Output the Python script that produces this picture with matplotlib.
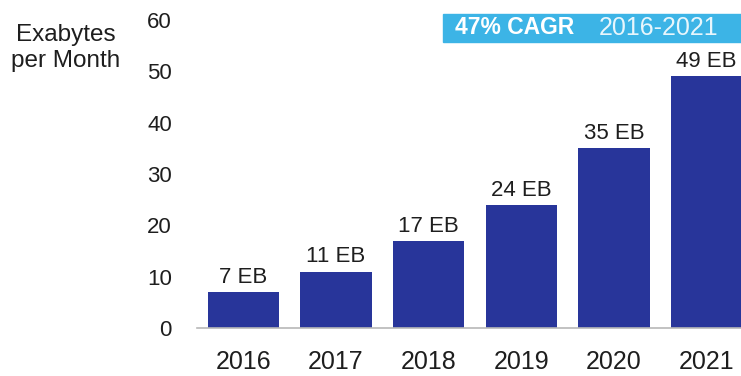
import matplotlib.pyplot as plt
from matplotlib.patches import Rectangle

years = ["2016", "2017", "2018", "2019", "2020", "2021"]
traffic_eb = [7, 11, 17, 24, 35, 49]
value_labels = ["7 EB", "11 EB", "17 EB", "24 EB", "35 EB", "49 EB"]
yticks = [0, 10, 20, 30, 40, 50, 60]

plt.rcParams['font.family'] = ['Liberation Sans', 'DejaVu Sans']

W, H = 741, 376
fig = plt.figure(figsize=(W / 100, H / 100), dpi=100)
fig.patch.set_facecolor("white")
ax = fig.add_axes([197 / W, (H - 328) / H, (W - 197) / W, 308 / H])

x = range(len(years))
bars = ax.bar(x, traffic_eb, width=0.77, color="#28359a")
for b, lab in zip(bars, value_labels):
    ax.annotate(lab, (b.get_x() + b.get_width() / 2, b.get_height()),
                xytext=(0, 3), textcoords="offset points",
                ha="center", va="bottom", fontsize=16, color="#1e1e1e")

ax.set_xlim(-0.5, 5.37)
ax.set_ylim(0, 60)
ax.set_xticks(list(x))
ax.set_xticklabels(years, fontsize=18, color="#1e1e1e")
ax.set_yticks(yticks)
ax.set_yticklabels([str(v) for v in yticks], fontsize=16, color="#1e1e1e")
ax.tick_params(axis="x", length=0, pad=16)
ax.tick_params(axis="y", length=0, pad=18)
for s in ["top", "right", "left"]:
    ax.spines[s].set_visible(False)
ax.spines["bottom"].set_color("#b8b8b8")
ax.spines["bottom"].set_linewidth(1.2)

# axis title in the top-left corner
fig.text(66 / W, 1 - 48 / H, "Exabytes\nper Month", ha="center", va="center",
         fontsize=17.5, color="#1e1e1e", linespacing=1.2)

# CAGR banner
fig.patches.append(Rectangle((443 / W, 1 - 42 / H), 298 / W, 28 / H,
                             transform=fig.transFigure, color="#3cb4e6", zorder=0))
fig.text(455 / W, 1 - 28 / H, "47% CAGR", ha="left", va="center",
         fontsize=16.5, fontweight="bold", color="white")
fig.text(599 / W, 1 - 28 / H, "2016-2021", ha="left", va="center",
         fontsize=18, color="#e8f6fc")

fig.savefig("out.png", dpi=100)
